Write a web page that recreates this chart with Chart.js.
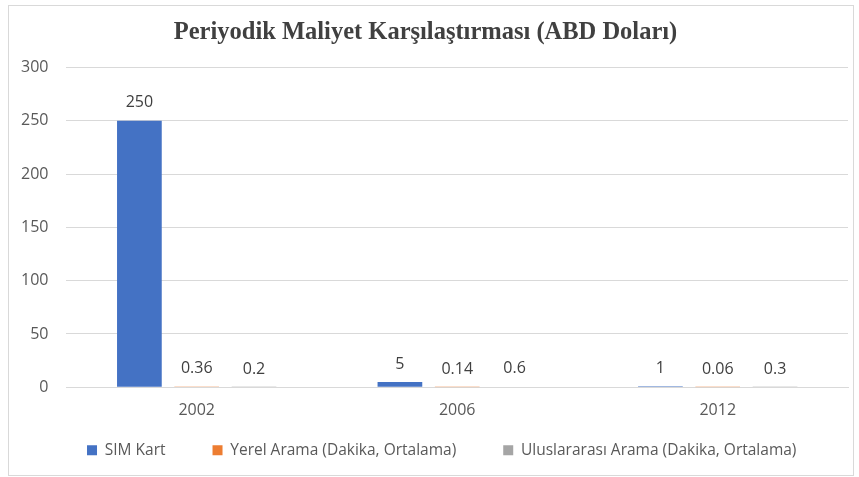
<!DOCTYPE html>
<html>
<head>
<meta charset="utf-8">
<script src="https://cdn.jsdelivr.net/npm/chart.js@4/dist/chart.umd.min.js"></script>
<style>
  html, body { margin: 0; padding: 0; background: #fff; }
  #wrap { width: 859px; height: 477px; position: relative; }
</style>
</head>
<body>
<div id="wrap"><canvas id="costChart"></canvas></div>
<script>
const years = ['2002', '2006', '2012'];
const simKart = [250, 5, 1];
const yerelArama = [0.36, 0.14, 0.06];
const uluslararasiArama = [0.2, 0.6, 0.3];
const yTicks = [0, 50, 100, 150, 200, 250, 300];

const textColor = '#595959';
const bodyFont = '"Open Sans", "Noto Sans", sans-serif';

// value above each bar + the thin outer frame
const valueLabels = {
  id: 'valueLabels',
  afterDatasetsDraw(chart) {
    const ctx = chart.ctx;
    ctx.save();
    ctx.font = '16px ' + bodyFont;
    ctx.fillStyle = '#404040';
    ctx.textAlign = 'center';
    ctx.textBaseline = 'middle';
    chart.data.datasets.forEach((ds, i) => {
      chart.getDatasetMeta(i).data.forEach((bar, j) => {
        ctx.fillText(String(ds.data[j]), bar.x, bar.y - 18);
      });
    });
    ctx.strokeStyle = '#d9d9d9';
    ctx.lineWidth = 1;
    ctx.strokeRect(8.5, 5.5, 845, 470);
    ctx.restore();
  }
};

new Chart(document.getElementById('costChart').getContext('2d'), {
  type: 'bar',
  data: {
    labels: years,
    datasets: [
      { label: 'SIM Kart', data: simKart, backgroundColor: '#4472C4' },
      { label: 'Yerel Arama (Dakika, Ortalama)', data: yerelArama, backgroundColor: '#ED7D31' },
      { label: 'Uluslararası Arama (Dakika, Ortalama)', data: uluslararasiArama, backgroundColor: '#A5A5A5' }
    ]
  },
  options: {
    responsive: true,
    maintainAspectRatio: false,
    animation: false,
    layout: { padding: { left: 3, right: 11, top: 6, bottom: 9 } },
    datasets: { bar: { categoryPercentage: 0.66, barPercentage: 0.78 } },
    plugins: {
      title: {
        display: true,
        text: 'Periyodik Maliyet Karşılaştırması (ABD Doları)',
        color: '#404040',
        font: { family: '"Liberation Serif", serif', size: 24.5, weight: 'bold' },
        padding: { top: 12, bottom: 20 }
      },
      legend: {
        position: 'bottom',
        fullSize: false,
        labels: {
          color: textColor,
          font: { family: bodyFont, size: 15.5 },
          boxWidth: 10,
          boxHeight: 10,
          padding: 16,
          // wider gaps between entries than the padding gives
          generateLabels: chart => Chart.defaults.plugins.legend.labels.generateLabels(chart)
            .map(item => ({ ...item, text: item.text + '\u2003\u2003' }))
        }
      },
      tooltip: { enabled: false }
    },
    scales: {
      x: {
        grid: { display: false },
        border: { color: '#d9d9d9' },
        ticks: { color: textColor, font: { family: bodyFont, size: 16 }, padding: 6 }
      },
      y: {
        min: 0,
        max: 300,
        afterBuildTicks: axis => { axis.ticks = yTicks.map(v => ({ value: v })); },
        grid: { color: '#d9d9d9', drawTicks: false },
        border: { display: false },
        ticks: { color: textColor, font: { family: bodyFont, size: 16 }, padding: 18 }
      }
    }
  },
  plugins: [valueLabels]
});
</script>
</body>
</html>
